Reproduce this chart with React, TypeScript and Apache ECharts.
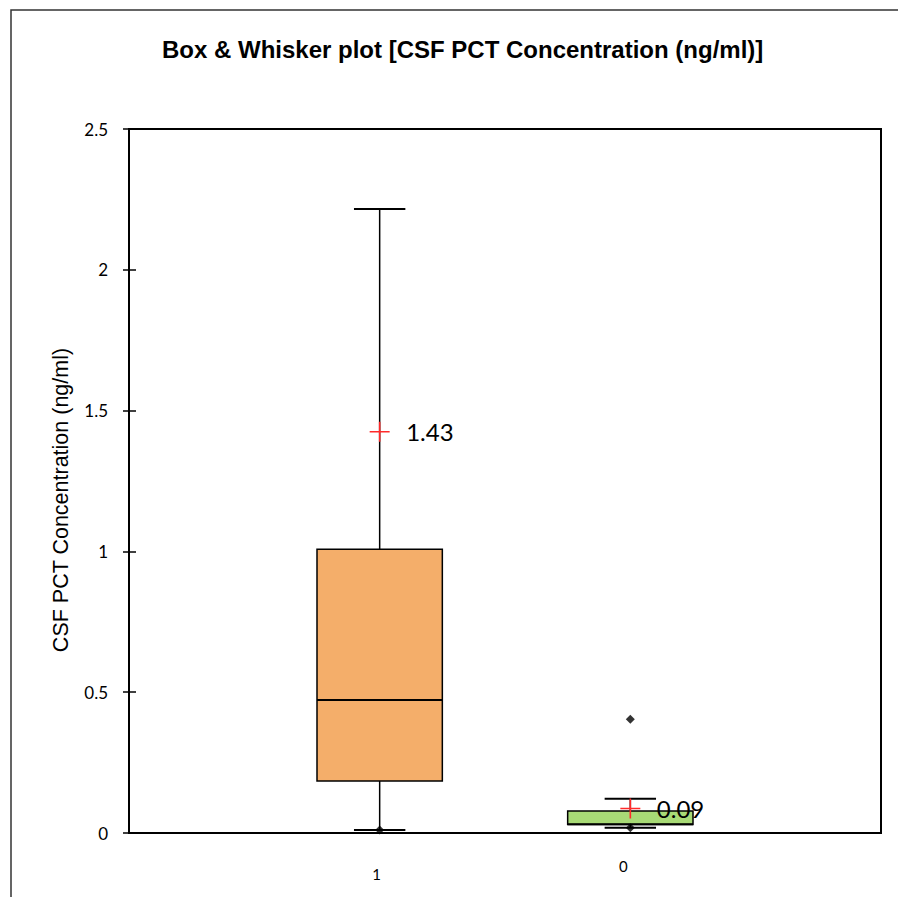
import React, { useEffect, useRef } from "react";
import * as echarts from "echarts";

const categories = ["", "1", "0", ""];
const boxNames = ["1", "0"];
const lowerWhisker = [0.011, 0.019];
const q1Values = [0.185, 0.03];
const medianValues = [0.472, 0.031];
const q3Values = [1.008, 0.078];
const upperWhisker = [2.216, 0.122];
const meanValues = [1.425, 0.087];
const meanLabels = ["1.43", "0.09"];
const minPoints = [0.011, 0.019];
const outlierNames = ["0"];
const outlierValues = [0.404];
const boxColors = ["#F4AE6A", "#A8DA76"];
const yTicks = [0, 0.5, 1, 1.5, 2, 2.5];

export default function App() {
  const ref = useRef<HTMLDivElement>(null);
  useEffect(() => {
    document.body.style.margin = "0";
    const chart = echarts.init(ref.current!, null, { renderer: "svg" });
    const boxData = boxNames.map((n, i) => [
      n,
      lowerWhisker[i],
      q1Values[i],
      medianValues[i],
      q3Values[i],
      upperWhisker[i],
    ]);
    const option: any = {
      animation: false,
      backgroundColor: "#fff",
      title: {
        text: "Box & Whisker plot [CSF PCT Concentration (ng/ml)]",
        left: 157,
        top: 32,
        textStyle: {
          fontFamily: "Liberation Sans, Arial",
          fontSize: 24,
          fontWeight: "bold",
          color: "#000",
        },
      },
      graphic: [
        {
          type: "polyline",
          shape: { points: [[11, 897], [11, 10], [898, 10]] },
          style: { stroke: "#333", lineWidth: 1.5, fill: "none" },
          silent: true,
        },
      ],
      grid: {
        left: 129,
        right: 17,
        top: 129,
        bottom: 64,
        show: true,
        borderColor: "#000",
        borderWidth: 2,
        containLabel: false,
      },
      xAxis: {
        type: "category",
        data: categories,
        boundaryGap: false,
        axisLine: { show: false },
        axisTick: { show: false },
        splitLine: { show: false },
        axisLabel: {
          margin: 25,
          interval: 0,
          formatter: (v: string) => (v === "1" ? "{a|1}" : v === "0" ? "{b|0}" : ""),
          rich: {
            a: { fontFamily: "Lato", fontSize: 15, color: "#000", padding: [8, 6, 0, 0] },
            b: { fontFamily: "Lato", fontSize: 15, color: "#000", padding: [0, 14, 0, 0] },
          },
        },
      },
      yAxis: [
        {
          type: "value",
          min: yTicks[0],
          max: yTicks[yTicks.length - 1],
          interval: 0.5,
          name: "CSF PCT Concentration (ng/ml)",
          nameLocation: "middle",
          nameGap: 57,
          nameTextStyle: {
            fontFamily: "Liberation Sans, Arial",
            fontSize: 21.5,
            color: "#000",
            padding: [0, 38, 0, 0],
          },
          axisLine: { show: false },
          axisTick: { show: true, length: 6, lineStyle: { color: "#000", width: 1.5 } },
          splitLine: { show: false },
          axisLabel: { fontFamily: "Lato", fontSize: 17, color: "#000", margin: 21 },
        },
        {
          type: "value",
          min: yTicks[0],
          max: yTicks[yTicks.length - 1],
          interval: 0.5,
          position: "left",
          axisLine: { show: false },
          axisTick: { show: true, inside: true, length: 7, lineStyle: { color: "#000", width: 1.5 } },
          splitLine: { show: false },
          axisLabel: { show: false },
        },
      ],
      series: [
        {
          type: "custom",
          data: boxData,
          encode: { x: 0, y: [1, 2, 3, 4, 5] },
          renderItem: (params: any, api: any) => {
            const idx = params.dataIndex;
            const xv = api.value(0);
            const band = api.size([1, 0])[0];
            const boxW = band * 0.5;
            const capW = band * 0.205;
            const pMin = api.coord([xv, api.value(1)]);
            const pQ1 = api.coord([xv, api.value(2)]);
            const pMed = api.coord([xv, api.value(3)]);
            const pQ3 = api.coord([xv, api.value(4)]);
            const pMax = api.coord([xv, api.value(5)]);
            const cx = pMed[0];
            const black = { stroke: "#000", lineWidth: 1.5 };
            return {
              type: "group",
              children: [
                { type: "line", shape: { x1: cx, y1: pMax[1], x2: cx, y2: pQ3[1] }, style: black },
                { type: "line", shape: { x1: cx, y1: pQ1[1], x2: cx, y2: pMin[1] }, style: black },
                { type: "line", shape: { x1: cx - capW / 2, y1: pMax[1], x2: cx + capW / 2, y2: pMax[1] }, style: { stroke: "#000", lineWidth: 2 } },
                { type: "line", shape: { x1: cx - capW / 2, y1: pMin[1], x2: cx + capW / 2, y2: pMin[1] }, style: { stroke: "#000", lineWidth: 2 } },
                {
                  type: "rect",
                  shape: { x: cx - boxW / 2, y: pQ3[1], width: boxW, height: pQ1[1] - pQ3[1] },
                  style: { fill: boxColors[idx], stroke: "#000", lineWidth: 1.5 },
                },
                { type: "line", shape: { x1: cx - boxW / 2, y1: pMed[1], x2: cx + boxW / 2, y2: pMed[1] }, style: { stroke: "#000", lineWidth: 2 } },
              ],
            };
          },
          z: 2,
        },
        {
          type: "scatter",
          data: boxNames.map((n, i) => [n, minPoints[i]]).concat(outlierNames.map((n, i) => [n, outlierValues[i]])),
          symbol: "diamond",
          symbolSize: 9,
          itemStyle: { color: "#000" },
          z: 3,
        },
        {
          type: "scatter",
          data: boxNames.map((n, i) => [n, meanValues[i]]),
          symbol: "path://M0,10L20,10M10,0L10,20",
          symbolSize: 20,
          itemStyle: { color: "none", borderColor: "#FF2A2A", borderWidth: 1.6, opacity: 1 },
          label: {
            show: true,
            position: "right",
            distance: 14,
            formatter: (p: any) => meanLabels[p.dataIndex],
            fontFamily: "Lato",
            fontSize: 24,
            color: "#000",
            textBorderWidth: 0,
          },
          z: 4,
        },
      ],
    };
    chart.setOption(option);
    return () => chart.dispose();
  }, []);
  return <div ref={ref} style={{ width: 898, height: 897 }} />;
}
